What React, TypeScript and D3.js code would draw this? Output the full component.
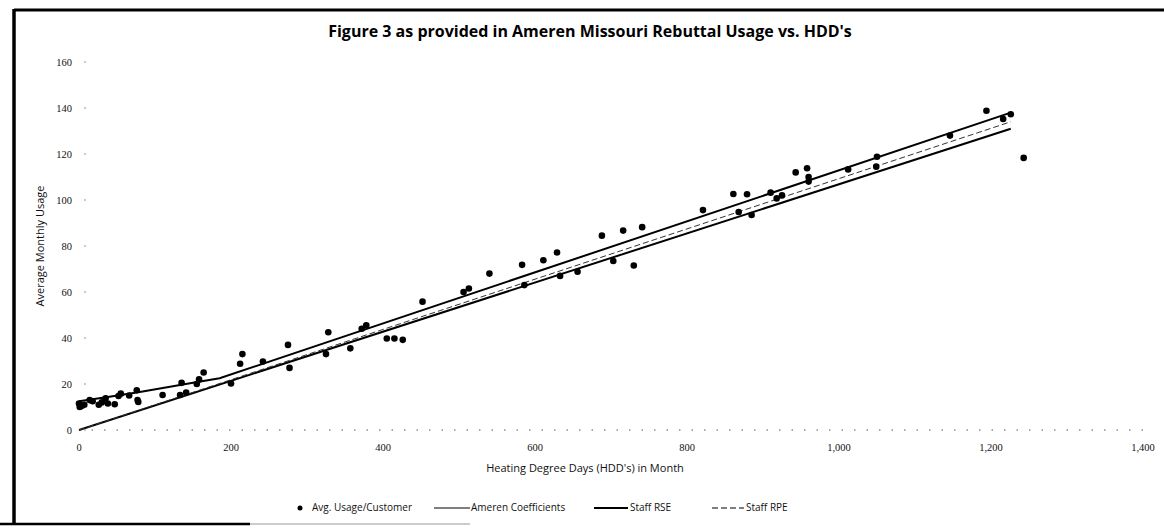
import React from "react";
import * as d3 from "d3";

// ---- data ----
const pointHdd = [0, 1, 4, 7, 14, 18, 26, 30, 35, 38, 47, 52, 55, 66, 76, 77, 78,
  110, 133, 135, 141, 155, 158, 164, 200, 212, 215, 242, 275, 277, 325, 328, 357, 372, 378,
  405, 415, 426, 452, 506, 513, 540, 583, 586, 611, 629, 633, 656, 688, 703, 716, 730, 741,
  821, 861, 868, 879, 885, 910, 918, 925, 943, 958, 960, 960, 1012, 1049, 1050, 1146, 1194,
  1216, 1226, 1243];
const pointUsage = [11.5, 10, 10.5, 11, 13, 12.5, 11, 12, 13.8, 11.5, 11.2, 14.8, 15.8, 15, 17.3, 13, 12.2,
  15.2, 15.2, 20.5, 16.3, 20, 22, 25, 20.2, 28.8, 33, 29.8, 37, 27, 33, 42.5, 35.5, 44, 45.5,
  39.8, 39.8, 39.2, 55.8, 60, 61.5, 68, 71.8, 63, 73.8, 77.2, 67, 68.8, 84.5, 73.5, 86.7, 71.5, 88.2,
  95.6, 102.6, 94.8, 102.5, 93.5, 103.2, 100.7, 102, 112, 113.8, 110, 108, 113.3, 114.5, 118.8, 128, 138.8,
  135.2, 137.3, 118.3];

const rseHdd = [0, 40, 80, 150, 185, 1226];
const rseUsage = [12.5, 14.5, 16.5, 20.5, 22.5, 138];
const amerenHdd = [0, 1226];
const amerenUsage = [0, 131];
const rpeHdd = [0, 1226];
const rpeUsage = [0, 134];

const xTicks = [0, 200, 400, 600, 800, 1000, 1200, 1400];
const yTicks = [0, 20, 40, 60, 80, 100, 120, 140, 160];

const titleText = "Figure 3 as provided in Ameren Missouri Rebuttal Usage vs. HDD's";
const xTitle = "Heating Degree Days (HDD's) in Month";
const yTitle = "Average Monthly Usage";
const legendLabels = ["Avg. Usage/Customer", "Ameren Coefficients", "Staff RSE", "Staff RPE"];

export default function App() {
  const W = 1164, H = 529;
  const x = d3.scaleLinear().domain([0, 1400]).range([79, 1143]);
  const y = d3.scaleLinear().domain([0, 160]).range([430, 62]);
  const fmt = d3.format(",");
  const line = d3.line<[number, number]>().x(d => x(d[0])).y(d => y(d[1]));
  const zip = (a: number[], b: number[]) => a.map((v, i) => [v, b[i]] as [number, number]);

  const sans = "'Open Sans', 'Liberation Sans', sans-serif";
  const serif = "'Liberation Serif', 'DejaVu Serif', serif";

  return (
    <svg width={W} height={H} style={{ position: "absolute", left: 0, top: 0, background: "#fff" }}>
      <rect x={0} y={0} width={W} height={H} fill="#fff" />
      {/* frame */}
      <line x1={14} y1={10} x2={W} y2={10} stroke="#000" strokeWidth={3} />
      <line x1={14} y1={9} x2={14} y2={525} stroke="#000" strokeWidth={3.5} />
      <line x1={0} y1={524} x2={250} y2={524} stroke="#000" strokeWidth={2.5} />
      <line x1={250} y1={524} x2={470} y2={524} stroke="#999" strokeWidth={1} />

      {/* title */}
      <text x={590} y={37} textAnchor="middle" fontFamily={sans} fontWeight={700} fontSize={16} fill="#000">
        {titleText}
      </text>

      {/* baseline dotted */}
      <line x1={x(0)} y1={y(0)} x2={x(1400)} y2={y(0)} stroke="#555" strokeWidth={1} strokeDasharray="1.5 11" />

      {/* y ticks */}
      {yTicks.map(t => (
        <g key={"y" + t}>
          <text x={72} y={y(t) + 3.5} textAnchor="end" fontFamily={serif} fontSize={10.5} fill="#111">{t}</text>
          <line x1={84} x2={86} y1={y(t)} y2={y(t)} stroke="#999" strokeWidth={1} />
        </g>
      ))}
      {/* x ticks */}
      {xTicks.map(t => (
        <text key={"x" + t} x={x(t)} y={451} textAnchor="middle" fontFamily={serif} fontSize={10.5} fill="#111">
          {fmt(t)}
        </text>
      ))}

      {/* axis titles */}
      <text x={585} y={472} textAnchor="middle" fontFamily={sans} fontSize={11} fill="#111">{xTitle}</text>
      <text transform={`translate(44,${(y(0) + y(160)) / 2}) rotate(-90)`} textAnchor="middle" fontFamily={sans} fontSize={11} fill="#111">
        {yTitle}
      </text>

      {/* lines */}
      <path d={line(zip(amerenHdd, amerenUsage)) || ""} fill="none" stroke="#000" strokeWidth={2} />
      <path d={line(zip(rseHdd, rseUsage)) || ""} fill="none" stroke="#000" strokeWidth={2} />
      <path d={line(zip(rpeHdd, rpeUsage)) || ""} fill="none" stroke="#333" strokeWidth={1} strokeDasharray="6 3" />

      {/* points */}
      {pointHdd.map((h, i) => (
        <circle key={"p" + i} cx={x(h)} cy={y(pointUsage[i])} r={3.3} fill="#000" />
      ))}

      {/* legend */}
      <g fontFamily={sans} fontSize={10} fill="#111">
        <circle cx={300} cy={508} r={2.5} fill="#000" />
        <text x={312} y={511}>{legendLabels[0]}</text>
        <line x1={434} x2={470} y1={508} y2={508} stroke="#000" strokeWidth={1} />
        <text x={471} y={511}>{legendLabels[1]}</text>
        <line x1={594} x2={628} y1={508} y2={508} stroke="#000" strokeWidth={2} />
        <text x={630} y={511}>{legendLabels[2]}</text>
        <line x1={712} x2={744} y1={508} y2={508} stroke="#000" strokeWidth={1.2} strokeDasharray="6 3" />
        <text x={746} y={511}>{legendLabels[3]}</text>
      </g>
    </svg>
  );
}
